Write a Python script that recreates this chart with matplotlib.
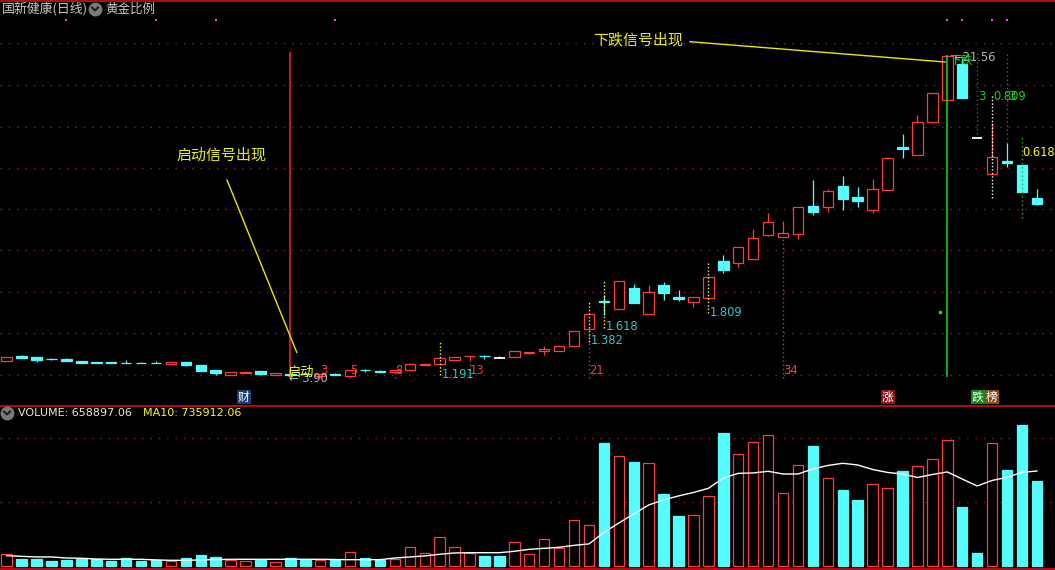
import matplotlib
matplotlib.use('Agg')
import matplotlib.pyplot as plt
from matplotlib.lines import Line2D
from matplotlib import font_manager

plt.rcParams['font.family'] = ['Noto Sans CJK SC', 'DejaVu Sans']

# ---------------- data ----------------
opens = [4.73, 4.98, 4.93, 4.84, 4.82, 4.73, 4.65, 4.65, 4.62, 4.62,
         4.62, 4.56, 4.65, 4.49, 4.21, 3.96, 4.07, 4.16, 3.92, 4.01,
         3.99, 3.91, 3.98, 3.91, 4.23, 4.16, 4.12, 4.20, 4.47, 4.53,
         4.75, 4.97, 5.00, 4.86, 4.91, 5.17, 5.24, 5.28, 5.55, 6.45,
         8.03, 7.59, 8.72, 7.31, 8.89, 8.25, 7.98, 8.20, 10.21, 10.12,
         10.30, 11.64, 11.55, 11.71, 13.23, 13.20, 14.33, 13.73, 13.04, 14.14,
         16.50, 16.06, 17.87, 19.05, 21.03, 16.96, 14.98, 15.71, 15.49, 13.66]
highs = [4.91, 5.04, 4.93, 4.87, 4.87, 4.73, 4.65, 4.65, 4.76, 4.65,
         4.71, 4.65, 4.65, 4.49, 4.21, 4.10, 4.10, 4.16, 4.03, 4.05,
         4.05, 3.98, 4.03, 4.21, 4.27, 4.19, 4.21, 4.60, 4.60, 4.86,
         4.93, 5.00, 5.06, 4.97, 5.26, 5.20, 5.53, 5.59, 6.36, 7.29,
         8.34, 9.09, 8.94, 8.89, 9.05, 8.61, 8.21, 9.31, 10.54, 10.96,
         11.97, 12.85, 12.41, 13.16, 14.66, 14.15, 14.88, 14.28, 14.72, 15.86,
         17.19, 18.24, 19.43, 21.56, 21.37, 16.96, 17.78, 16.70, 15.49, 14.17]
lows = [4.73, 4.89, 4.67, 4.75, 4.73, 4.62, 4.58, 4.62, 4.58, 4.58,
        4.58, 4.56, 4.45, 4.18, 3.94, 3.96, 4.07, 3.96, 3.92, 3.90,
        3.97, 3.91, 3.94, 3.91, 4.12, 4.10, 4.12, 4.20, 4.47, 4.53,
        4.75, 4.76, 4.84, 4.86, 4.91, 5.11, 5.06, 5.28, 5.55, 6.45,
        7.24, 7.59, 7.92, 7.31, 8.08, 8.03, 7.70, 8.20, 9.57, 9.90,
        10.30, 11.58, 11.55, 11.42, 12.74, 12.92, 13.01, 13.20, 12.87, 14.14,
        15.89, 16.06, 17.78, 19.05, 19.19, 16.96, 14.98, 15.36, 14.02, 13.29]
closes = [4.91, 4.89, 4.78, 4.80, 4.73, 4.62, 4.62, 4.62, 4.58, 4.58,
          4.58, 4.65, 4.51, 4.18, 4.03, 4.10, 4.10, 4.01, 4.03, 3.96,
          3.97, 3.98, 3.94, 4.21, 4.20, 4.13, 4.21, 4.53, 4.56, 4.86,
          4.91, 5.00, 4.97, 4.86, 5.26, 5.20, 5.37, 5.53, 6.36, 7.29,
          7.95, 9.09, 7.92, 8.49, 8.47, 8.14, 8.21, 9.31, 9.71, 10.96,
          11.46, 12.34, 11.73, 13.16, 12.92, 14.06, 13.62, 13.51, 14.15, 15.86,
          16.39, 17.84, 19.43, 21.50, 19.19, 16.96, 15.91, 15.60, 14.02, 13.36]
# volume in units of 10,000
volumes = [9.1, 5.4, 5.4, 3.9, 4.7, 5.7, 5.2, 3.9, 6.2, 3.9,
           4.7, 4.1, 6.2, 8.5, 7.0, 4.4, 3.6, 4.9, 2.9, 6.2,
           4.9, 4.4, 4.9, 10.6, 6.2, 4.9, 5.4, 14.5, 9.8, 22.2,
           14.5, 10.3, 7.8, 7.8, 18.4, 9.1, 20.7, 14.0, 35.7, 31.5,
           95.3, 85.3, 80.6, 79.6, 55.8, 38.8, 39.3, 54.0, 103.1, 86.8,
           95.9, 101.5, 56.3, 78.3, 93.0, 68.0, 58.9, 51.2, 63.6, 60.2,
           73.6, 77.5, 82.9, 97.7, 45.7, 10.1, 95.3, 74.4, 109.3, 65.89706]
ma10 = [8.0, 7.5, 7.0, 7.0, 6.2, 6.0, 5.4, 5.2, 5.2, 5.2,
        4.7, 4.4, 4.4, 4.7, 5.0, 5.2, 5.2, 5.2, 5.2, 5.2,
        5.2, 5.2, 5.0, 4.9, 4.9, 4.9, 6.2, 7.0, 7.8, 9.1,
        10.1, 10.3, 10.3, 10.3, 11.4, 12.9, 13.7, 14.5, 16.0, 17.1,
        26.0, 33.3, 40.3, 47.3, 51.2, 54.3, 57.0, 60.2, 68.2, 71.8,
        72.1, 73.4, 71.3, 71.3, 75.2, 77.9, 79.6, 78.3, 74.8, 72.5,
        71.3, 68.6, 70.9, 72.9, 67.4, 62.0, 66.3, 68.7, 72.6, 73.5912]

signal_idx = [4, 10, 14, 22, 63, 64, 66, 67]
start_idx = 19
drop_idx = 63
fib_idx = [21, 23, 26, 31, 39, 52]
fib_labels = ['3', '5', '8', '13', '21', '34']
ratio_idx = [29, 39, 40, 47]
ratio_labels = ['1.191', '1.382', '1.618', '1.809']
ratio_label_px = [375, 341, 327, 313]
ratio_line_px = [(342, 375), (301, 342), (281, 328), (261, 313)]
vol_grid = [49.6, 99.2]

# ---------------- layout helpers ----------------
W, H = 1055, 570
RED = '#ff3c3c'
CYAN = '#54fcfc'
GRID = '#9a1c1c'

installed = {f.name for f in font_manager.fontManager.ttflist}
NUMF = ['Liberation Sans Narrow', 'DejaVu Sans'] if 'Liberation Sans Narrow' in installed \
    else ['DejaVu Sans']
NUMSIZE = 10 if 'Liberation Sans Narrow' in installed else 8.3


def fy(py):
    return 1 - py / H


def fx(px):
    return px / W


def P(py):          # pixel row -> price level in the price panel
    return 3.9 + (375.7 - py) * 0.055


def X(px):          # pixel column -> candle index
    return (px - 6.7) / 14.93


fig = plt.figure(figsize=(W / 100, H / 100), dpi=100)
fig.patch.set_facecolor('black')

ax = fig.add_axes([0, fy(405), 1, fy(0) - fy(405)])
axv = fig.add_axes([0, fy(568), 1, fy(406) - fy(568)])
for a in (ax, axv):
    a.set_axis_off()
    a.set_xlim(X(0), X(W))
ax.set_ylim(P(405), P(0))
axv.set_ylim(-1.55, 124.0)

n = len(opens)
idx = list(range(n))

# grid
for py in [43, 85, 127, 168, 209, 250, 292, 333, 375]:
    ax.axhline(P(py), color=GRID, lw=1, ls=(0, (1, 5)), zorder=0)
for g in vol_grid:
    axv.axhline(g, color=GRID, lw=1, ls=(0, (1, 5)), zorder=0)

# candles
w = 0.70
LW = 0.9
for i, (o, h, l, c) in enumerate(zip(opens, highs, lows, closes)):
    if c > o:
        ax.bar(i, c - o, bottom=o, width=w, facecolor='black', edgecolor=RED,
               linewidth=LW, zorder=3)
        ax.vlines(i, c, h, color=RED, lw=LW, zorder=3)
        ax.vlines(i, l, o, color=RED, lw=LW, zorder=3)
    elif c < o:
        ax.bar(i, o - c, bottom=c, width=w, facecolor=CYAN, edgecolor=CYAN,
               linewidth=LW, zorder=3)
        ax.vlines(i, l, h, color=CYAN, lw=LW, zorder=2)
    else:
        ax.hlines(o, i - w / 2, i + w / 2, color='white', lw=1.3, zorder=3)
        ax.vlines(i, l, h, color='white', lw=LW, zorder=3)

# volume bars
for i, (o, c, v) in enumerate(zip(opens, closes, volumes)):
    if c > o:
        axv.bar(i, v, width=w, facecolor='black', edgecolor=RED, linewidth=LW, zorder=3)
    else:
        axv.bar(i, v, width=w, facecolor=CYAN, edgecolor=CYAN, linewidth=LW, zorder=3)
axv.plot(idx, ma10, color='white', lw=1, zorder=4)

# signal markers at the top
ax.scatter(signal_idx, [P(20)] * len(signal_idx), marker='s', s=3, color='#ff40ff',
           linewidths=0, zorder=5)

# start / drop vertical lines
ax.vlines(start_idx, P(378), P(52), color='#ff2020', lw=1.1, zorder=4)
ax.vlines(drop_idx, P(377), highs[drop_idx], color='#10e010', lw=1.1, zorder=4)
ax.plot([X(940)], [P(312)], marker='s', ms=1.5, color='#10e010', zorder=4)

# fibonacci time zones
for i, lab in zip(fib_idx, fib_labels):
    ax.vlines(i, P(378), lows[i], color='#b030b0', lw=1, ls=(0, (1, 2)), zorder=2)
    ax.text(i + 0.02, P(371), lab, color=RED, fontsize=NUMSIZE, va='center', ha='left',
            family=NUMF, zorder=6)

# ratio markers
for i, lab, lpy, (t, b) in zip(ratio_idx, ratio_labels, ratio_label_px, ratio_line_px):
    ax.vlines(i, P(b), P(t), color='#ffff00', lw=1, ls=(0, (1, 1.5)), zorder=4)
    ax.text(i + 0.12, P(lpy), lab, color='#30c8c8', fontsize=NUMSIZE, va='center', ha='left',
            family=NUMF, zorder=6)

# right-hand retracement marks
ax.vlines(65, P(138), P(52), color='#1f7a4a', lw=1, ls=(0, (1, 2)), zorder=2)
ax.vlines(67, P(143), P(52), color='#1f7a4a', lw=1, ls=(0, (1, 2)), zorder=2)
ax.vlines(68, P(218), P(136), color='#22bb22', lw=1, ls=(0, (1, 2)), zorder=4)
ax.vlines(66, P(197.7), P(95), color='white', lw=1, ls=(0, (1, 1.5)), zorder=4)
ax.text(65 + 0.05, P(96), '3', color='#20d020', fontsize=NUMSIZE, va='center', ha='left',
        family=NUMF, zorder=6)
ax.text(66 + 0.05, P(96), '0.809', color='#20d020', fontsize=NUMSIZE, va='center', ha='left',
        family=NUMF, zorder=6)
ax.text(67 + 0.05, P(96), '3', color='#20d020', fontsize=NUMSIZE, va='center', ha='left',
        family=NUMF, zorder=6)
ax.text(68 + 0.02, P(152), '0.618', color='#ffff00', fontsize=NUMSIZE, va='center', ha='left',
        family=NUMF, zorder=6)

# high / low labels
ax.text(X(953), P(57.5), '←21.56', color='#b4b4b4', fontsize=NUMSIZE, va='center', ha='left',
        family=NUMF, zorder=6)
ax.text(X(949), P(60), '下跌', color='#20e020', fontsize=8.5, va='center', ha='left', zorder=7)
ax.text(X(289), P(378), '← 3.90', color='#b4b4b4', fontsize=NUMSIZE, va='center', ha='left',
        family=NUMF, zorder=6)
ax.text(X(288), P(372), '启动', color='#ffff00', fontsize=9.5, va='center', ha='left', zorder=7)

# annotations
ax.plot([X(227), X(296.7)], [P(180), P(352.3)], color='#e8e800', lw=1, zorder=5)
ax.text(X(176), P(155), '启动信号出现', color='#f0f000', fontsize=10.8, va='center',
        ha='left', zorder=6)
ax.plot([X(690), X(945)], [P(41.7), P(62)], color='#e8e800', lw=1, zorder=5)
ax.text(X(593), P(40), '下跌信号出现', color='#f0f000', fontsize=10.8, va='center',
        ha='left', zorder=6)

# frame lines
for py in (0.5, 405.5, 568.5):
    fig.add_artist(Line2D([0, 1], [fy(py), fy(py)], color='#d01010', lw=1.2))


# header
def icon(px, py):
    fig.add_artist(Line2D([fx(px)], [fy(py)], marker='o', ms=10, color='#7a7a7a',
                          markeredgewidth=0))
    fig.add_artist(Line2D([fx(px - 3), fx(px), fx(px + 3)],
                          [fy(py - 1.5), fy(py + 1.5), fy(py - 1.5)],
                          color='#202020', lw=1.5))


fig.text(fx(2), fy(9), '国新健康(日线)', color='#c8c8c8', fontsize=9.3, va='center', ha='left')
icon(95, 9)
fig.text(fx(105), fy(9), '黄金比例', color='#c8c8c8', fontsize=9, va='center', ha='left')

icon(7, 413)
fig.text(fx(18), fy(413), 'VOLUME: 658897.06', color='#e8e8e8', fontsize=8, va='center',
         ha='left', family='DejaVu Sans')
fig.text(fx(143), fy(413), 'MA10: 735912.06', color='#ffff00', fontsize=8, va='center',
         ha='left', family='DejaVu Sans')

# tags
for px, t, col in [(238, '财', '#1c3f74'), (882, '涨', '#8c1414'),
                   (972, '跌', '#138a13'), (986, '榜', '#8a4a14')]:
    fig.text(fx(px), fy(397), t, color='white', fontsize=8.5, va='center', ha='left',
             bbox=dict(boxstyle='square,pad=0.08', fc=col, ec='none'))

fig.savefig('out.png', dpi=100, facecolor='black')
